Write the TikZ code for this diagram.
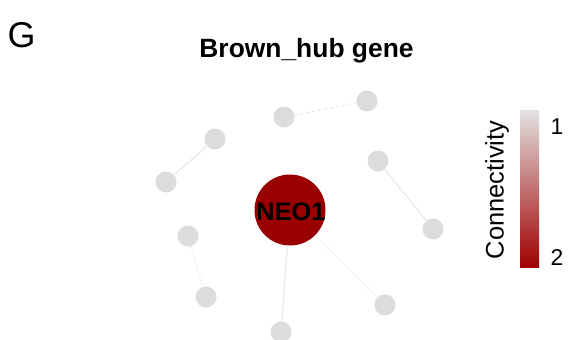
\documentclass[tikz,border=0pt]{standalone}
\usepackage{fontspec}
\setmainfont{Liberation Sans}
\definecolor{nodegray}{HTML}{DCDCDC}
\definecolor{edgegray}{HTML}{ECECEC}
\definecolor{hubred}{HTML}{9B0000}
\definecolor{barlow}{HTML}{A00000}
\definecolor{bartop}{HTML}{E2E2E2}
\begin{document}
\begin{tikzpicture}[x=1bp,y=-1bp,
  small/.style={circle,fill=nodegray,draw=none,minimum size=21bp,inner sep=0pt},
  hub/.style={circle,fill=hubred,draw=none,minimum size=71bp,inner sep=0pt},
  link/.style={draw=edgegray,line width=1.5bp},
  dashlink/.style={link,dash pattern=on 3bp off 3bp},
  dotlink/.style={link,dash pattern=on 1.5bp off 2bp}]
\useasboundingbox (0,0) rectangle (573,339);
% labels
\node[anchor=base west,inner sep=0pt,font=\fontsize{36}{40}\selectfont] (lab) at (7.5,47) {G};
\node[anchor=base,inner sep=0pt,font=\fontsize{26.5}{30}\selectfont\bfseries] (title) at (306.5,57) {Brown\_hub gene};
% nodes
\node[small] (n1) at (284,117) {};
\node[small] (n2) at (367,101) {};
\node[small] (n3) at (215,139) {};
\node[small] (n4) at (166,182) {};
\node[small] (n5) at (378,161) {};
\node[small] (n6) at (433,229) {};
\node[small] (n7) at (188,236) {};
\node[small] (n8) at (206,297) {};
\node[small] (n9) at (385,305) {};
\node[small] (n10) at (281,332) {};
\node[hub] (hub) at (290,210) {};
\node[anchor=base,inner sep=0pt,font=\fontsize{25.5}{28}\selectfont\bfseries] (hubtext) at (291,220) {NEO1};
% edges
\draw[dashlink] (n1) -- (n2);
\draw[link] (n3) -- (n4);
\draw[link] (n5) -- (n6);
\draw[dotlink] (n7) -- (n8);
\draw[link] (hub) -- (n10);
\draw[dotlink] (hub) -- (n9);
% legend
\node[draw=none,inner sep=0pt,minimum width=19bp,minimum height=157bp,top color=bartop,bottom color=barlow,anchor=north west] (bar) at (520,110) {};
\node[anchor=base,rotate=90,inner sep=0pt,font=\fontsize{25.5}{28}\selectfont] (conn) at (503.5,190) {Connectivity};
\node[anchor=base,inner sep=0pt,font=\fontsize{23}{26}\selectfont] (one) at (557,134) {1};
\node[anchor=base,inner sep=0pt,font=\fontsize{23}{26}\selectfont] (two) at (557,265) {2};
\end{tikzpicture}
\end{document}
